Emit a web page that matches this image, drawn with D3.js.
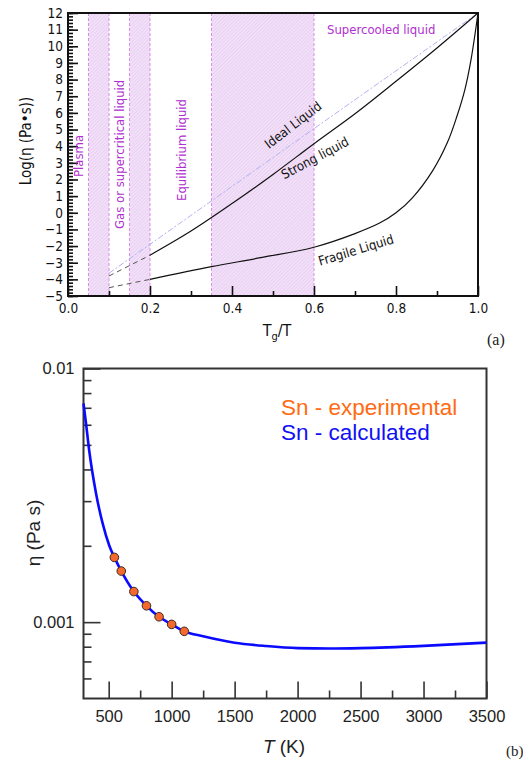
<!DOCTYPE html>
<html>
<head>
<meta charset="utf-8">
<script src="https://cdn.jsdelivr.net/npm/d3@7"></script>
<style>
  html, body { margin: 0; padding: 0; background: #fff; }
  svg { display: block; }
  .ta text { font-family: "DejaVu Sans Condensed", "DejaVu Sans", sans-serif; }
  .tb text { font-family: "Liberation Sans", Arial, sans-serif; }
</style>
</head>
<body>
<svg id="fig" width="523" height="760"></svg>
<script>
// ---------- panel (a): viscosity regimes vs Tg/T ----------
const bandsA = [[0.05, 0.10], [0.15, 0.20], [0.35, 0.60]];
const idealX = [0.1, 1.0];
const idealY = [-3.63, 12];
const strongDashX = [0.1, 0.2];
const strongDashY = [-3.8, -2.55];
const strongX = [0.2, 0.3, 0.4, 0.5, 0.6, 0.7, 0.8, 0.9, 1.0];
const strongY = [-2.55, -1.1, 0.55, 2.3, 4.15, 5.95, 7.9, 9.9, 12];
const fragileDashX = [0.1, 0.2];
const fragileDashY = [-4.5, -4.0];
const fragileX = [0.2, 0.35, 0.47, 0.6, 0.7, 0.76, 0.8, 0.84, 0.89, 0.925, 0.948, 0.968, 0.983, 1.0];
const fragileY = [-4.0, -3.24, -2.7, -2.07, -1.25, -0.62, 0.0, 0.9, 2.55, 4.2, 5.75, 7.4, 9.2, 12];
const xTicksA = [0, 0.2, 0.4, 0.6, 0.8, 1.0];
const yTicksA = d3.range(-5, 13, 1);

// ---------- panel (b): Sn viscosity vs temperature ----------
const expT = [545, 600, 700, 800, 900, 1000, 1100];
const expEta = [0.00180, 0.00159, 0.00132, 0.00116, 0.00105, 0.00098, 0.00092];
const calcT = [300, 320, 345, 400, 452, 505, 550, 600, 700, 800, 900, 1000, 1100, 1250, 1500, 1750, 2000, 2250, 2500, 3000, 3500];
const calcEta = [0.00728, 0.00607, 0.00476, 0.00321, 0.00245, 0.00200, 0.00178, 0.00159, 0.00132, 0.00116, 0.00105, 0.00098, 0.00092, 0.00088, 0.00083, 0.000805, 0.00079, 0.000787, 0.00079, 0.000806, 0.00083];
const xTicksB = [500, 1000, 1500, 2000, 2500, 3000, 3500];
const xMinorB = [750, 1250, 1750, 2250, 2750, 3250];
const yTicksB = [0.001, 0.01];
const yMinorB = [0.0006, 0.0007, 0.0008, 0.0009, 0.002, 0.003, 0.004, 0.005, 0.006, 0.007, 0.008, 0.009];

const svg = d3.select("#fig");

// ================= panel (a) =================
const A = { l: 68, r: 478, t: 13, b: 296 };
const xa = d3.scaleLinear().domain([0, 1]).range([A.l, A.r]);
const ya = d3.scaleLinear().domain([-5, 12]).range([A.b, A.t]);
const ga = svg.append("g").attr("class", "ta");

const defs = svg.append("defs");
const pat = defs.append("pattern")
  .attr("id", "hatch").attr("patternUnits", "userSpaceOnUse")
  .attr("width", 2.5).attr("height", 2.5)
  .attr("patternTransform", "rotate(45)");
pat.append("rect").attr("width", 2.5).attr("height", 2.5).attr("fill", "#f2e0f8");
pat.append("line").attr("x1", 0).attr("y1", 0).attr("x2", 0).attr("y2", 2.5)
  .attr("stroke", "#e2c4ee").attr("stroke-width", 1);

// regime bands
bandsA.forEach(([a, b]) => {
  ga.append("rect")
    .attr("x", xa(a)).attr("y", ya(12))
    .attr("width", xa(b) - xa(a)).attr("height", ya(-5) - ya(12))
    .attr("fill", "url(#hatch)");
  [a, b].forEach(v => ga.append("line")
    .attr("x1", xa(v)).attr("x2", xa(v)).attr("y1", ya(12)).attr("y2", ya(-5))
    .attr("stroke", "#d88ee9").attr("stroke-width", 1)
    .attr("stroke-dasharray", "3,2"));
});

const lineA = d3.line().x(d => xa(d[0])).y(d => ya(d[1]));
const lineAc = d3.line().x(d => xa(d[0])).y(d => ya(d[1])).curve(d3.curveCatmullRom.alpha(0.5));
const zip = (xs, ys) => xs.map((x, i) => [x, ys[i]]);

ga.append("path").attr("d", lineA(zip(idealX, idealY)))
  .attr("fill", "none").attr("stroke", "#b2b2f4").attr("stroke-width", 1)
  .attr("stroke-dasharray", "6,2,2,2");
ga.append("path").attr("d", lineA(zip(strongDashX, strongDashY)))
  .attr("fill", "none").attr("stroke", "#555").attr("stroke-width", 1)
  .attr("stroke-dasharray", "5,4");
ga.append("path").attr("d", lineA(zip(fragileDashX, fragileDashY)))
  .attr("fill", "none").attr("stroke", "#555").attr("stroke-width", 1)
  .attr("stroke-dasharray", "5,4");
ga.append("path").attr("d", lineAc(zip(strongX, strongY)))
  .attr("fill", "none").attr("stroke", "#111").attr("stroke-width", 1.2);
ga.append("path").attr("d", lineAc(zip(fragileX, fragileY)))
  .attr("fill", "none").attr("stroke", "#111").attr("stroke-width", 1.2);

// axes (ticks point inward)
const yAxA = d3.axisLeft(ya).tickValues(yTicksA).tickSize(-10).tickPadding(5).tickFormat(d3.format("d"));
const yMinA = d3.axisLeft(ya).tickValues(d3.range(-5, 12.01, 0.2)).tickSize(-5).tickFormat("");
const xAxA = d3.axisBottom(xa).tickValues(xTicksA).tickSize(-10).tickPadding(7).tickFormat(d3.format(".1f"));
const xMinA = d3.axisBottom(xa).tickValues([0.1, 0.3, 0.5, 0.7, 0.9]).tickSize(-5).tickFormat("");

function styleAxis(g, size, color) {
  g.select(".domain").remove();
  g.selectAll(".tick line").attr("stroke", color).attr("stroke-width", 1.6);
  g.selectAll("text").attr("font-size", size).attr("fill", "#111");
}
ga.append("g").attr("transform", `translate(${A.l},0)`).call(yMinA).call(g => styleAxis(g, 13.5, "#111"));
ga.append("g").attr("transform", `translate(${A.l},0)`).call(yAxA).call(g => styleAxis(g, 13.5, "#111"));
ga.append("g").attr("transform", `translate(0,${A.b})`).call(xMinA).call(g => styleAxis(g, 13.5, "#111"));
ga.append("g").attr("transform", `translate(0,${A.b})`).call(xAxA).call(g => styleAxis(g, 13.5, "#111"));

ga.append("rect").attr("x", A.l).attr("y", A.t).attr("width", A.r - A.l).attr("height", A.b - A.t)
  .attr("fill", "none").attr("stroke", "#111").attr("stroke-width", 2);

// labels
const purple = "#b02fd0";
ga.append("text").attr("x", 327).attr("y", 34).attr("font-size", 13).attr("fill", purple).text("Supercooled liquid");
[["Plasma", 82.5, 177], ["Gas or supercritical liquid", 124, 229], ["Equilibrium liquid", 185.5, 201]].forEach(([t, x, y]) => {
  ga.append("text").attr("transform", `translate(${x},${y}) rotate(-90)`)
    .attr("font-size", 13).attr("fill", purple).text(t);
});
[["Ideal Liquid", 293, 125, -37.5], ["Strong liquid", 315, 158, -28], ["Fragile Liquid", 356, 250, -17]].forEach(([t, x, y, a]) => {
  ga.append("text").attr("transform", `translate(${x},${y}) rotate(${a})`)
    .attr("text-anchor", "middle").attr("dy", "0.35em")
    .attr("font-size", 13).attr("fill", "#111").text(t);
});
ga.append("text").attr("transform", `translate(31,141) rotate(-90)`)
  .attr("text-anchor", "middle").attr("font-size", 15).attr("fill", "#111")
  .text("Log(η (Pa•s))");
const xl = ga.append("text").attr("x", 277).attr("y", 336).attr("text-anchor", "middle")
  .attr("font-size", 16).attr("fill", "#111");
xl.append("tspan").text("T");
xl.append("tspan").attr("font-size", 11).attr("dy", 4).text("g");
xl.append("tspan").attr("dy", -4).text("/T");
svg.append("text").attr("x", 487).attr("y", 345).attr("font-family", "'Liberation Serif', 'DejaVu Serif', serif")
  .attr("font-size", 16).attr("fill", "#222").text("(a)");

// ================= panel (b) =================
const B = { l: 83.5, r: 486.5, t: 368.5, b: 698.5 };
const xb = d3.scaleLinear().domain([300, 3500]).range([B.l, B.r]);
const yb = d3.scaleLog().domain([0.0005, 0.01]).range([B.b, B.t]);
const gb = svg.append("g").attr("class", "tb");

const axCol = "#333";
const yAxB = d3.axisLeft(yb).tickValues(yTicksB).tickSize(-17).tickPadding(9).tickFormat(d => d === 0.01 ? "0.01" : "0.001");
const yMinB = d3.axisLeft(yb).tickValues(yMinorB).tickSize(-8).tickFormat("");
const xAxB = d3.axisBottom(xb).tickValues(xTicksB).tickSize(-17).tickPadding(12).tickFormat(d3.format("d"));
const xMinB = d3.axisBottom(xb).tickValues(xMinorB).tickSize(-8).tickFormat("");
gb.append("g").attr("transform", `translate(${B.l},0)`).call(yMinB).call(g => styleAxis(g, 16.5, axCol));
gb.append("g").attr("transform", `translate(${B.l},0)`).call(yAxB).call(g => styleAxis(g, 16.5, axCol));
gb.append("g").attr("transform", `translate(0,${B.b})`).call(xMinB).call(g => styleAxis(g, 16.5, axCol));
gb.append("g").attr("transform", `translate(0,${B.b})`).call(xAxB).call(g => styleAxis(g, 16.5, axCol));
gb.selectAll(".tick text").attr("fill", "#222");

gb.append("rect").attr("x", B.l).attr("y", B.t).attr("width", B.r - B.l).attr("height", B.b - B.t)
  .attr("fill", "none").attr("stroke", axCol).attr("stroke-width", 2);

const lineB = d3.line().x(d => xb(d[0])).y(d => yb(d[1])).curve(d3.curveMonotoneX);
gb.append("path").attr("d", lineB(zip(calcT, calcEta)))
  .attr("fill", "none").attr("stroke", "#0a0aff").attr("stroke-width", 2.6);

gb.selectAll("circle.exp").data(zip(expT, expEta)).enter().append("circle")
  .attr("class", "exp")
  .attr("cx", d => xb(d[0])).attr("cy", d => yb(d[1])).attr("r", 4.3)
  .attr("fill", "#f5692f").attr("stroke", "#3a2a20").attr("stroke-width", 1);

gb.append("text").attr("x", 281).attr("y", 415).attr("font-size", 22.5).attr("fill", "#ff6a13").text("Sn - experimental");
gb.append("text").attr("x", 281).attr("y", 440).attr("font-size", 22.5).attr("fill", "#1010f5").text("Sn - calculated");

gb.append("text").attr("transform", `translate(40,533) rotate(-90)`)
  .attr("text-anchor", "middle").attr("font-size", 19).attr("fill", "#222").text("η (Pa s)");
const tl = gb.append("text").attr("x", 284).attr("y", 753).attr("text-anchor", "middle")
  .attr("font-size", 19).attr("fill", "#222");
tl.append("tspan").attr("font-style", "italic").text("T");
tl.append("tspan").text(" (K)");
svg.append("text").attr("x", 506).attr("y", 756).attr("font-family", "'Liberation Serif', 'DejaVu Serif', serif")
  .attr("font-size", 15).attr("fill", "#222").text("(b)");
</script>
</body>
</html>
